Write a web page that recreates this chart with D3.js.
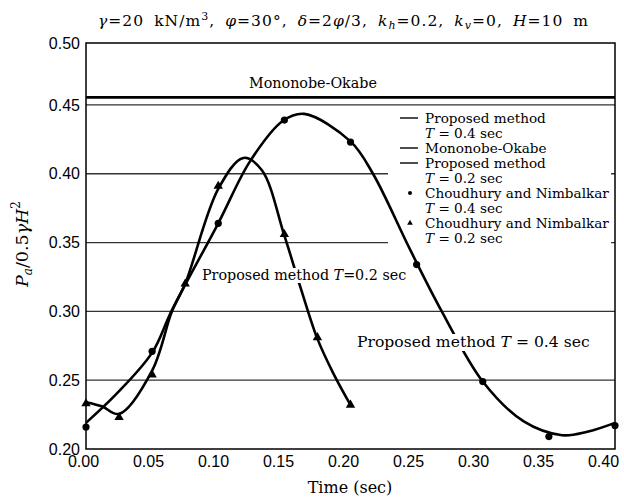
<!DOCTYPE html>
<html>
<head>
<meta charset="utf-8">
<script src="https://cdn.jsdelivr.net/npm/d3@7.9.0/dist/d3.min.js"></script>
<style>
  body { margin: 0; background: #fff; }
  svg { display: block; font-family: "DejaVu Serif", "Liberation Serif", serif; }
</style>
</head>
<body>
<svg id="chart" width="624" height="499"></svg>
<script>
// Choudhury and Nimbalkar points
const cnTimes04 = [0, 0.05, 0.10, 0.15, 0.20, 0.25, 0.30, 0.35, 0.40];
const cnValues04 = [0.216, 0.271, 0.364, 0.439, 0.423, 0.334, 0.249, 0.209, 0.217];
const cnTimes02 = [0, 0.025, 0.05, 0.075, 0.10, 0.15, 0.175, 0.20];
const cnValues02 = [0.233, 0.223, 0.254, 0.320, 0.391, 0.356, 0.281, 0.232];

// Proposed method curves
const pmTimes04 = [0, 0.023, 0.05, 0.065, 0.10, 0.124, 0.149, 0.165, 0.20, 0.217, 0.245, 0.269, 0.30, 0.331, 0.36, 0.379, 0.40];
const pmValues04 = [0.219, 0.240, 0.270, 0.301, 0.364, 0.409, 0.4385, 0.4435, 0.4235, 0.400, 0.345, 0.300, 0.249, 0.220, 0.210, 0.2125, 0.219];
const pmTimes02 = [0, 0.012, 0.025, 0.05, 0.065, 0.075, 0.10, 0.119, 0.133, 0.15, 0.162, 0.175, 0.187, 0.20];
const pmValues02 = [0.234, 0.231, 0.2255, 0.257, 0.300, 0.320, 0.389, 0.4115, 0.4025, 0.355, 0.318, 0.280, 0.255, 0.232];

// Mononobe-Okabe
const moValue = 0.4555;

const xTicks = [0, 0.05, 0.10, 0.15, 0.20, 0.25, 0.30, 0.35, 0.40];
// the top of the frame is printed as 0.50 although it sits a little lower
const yMax = 0.495;
const yTicks = [0.20, 0.25, 0.30, 0.35, 0.40, 0.45, yMax];
const yTickLabels = ['0.20', '0.25', '0.30', '0.35', '0.40', '0.45', '0.50'];
const gridValues = [0.25, 0.30, 0.35, 0.40, 0.45];

const svg = d3.select('#chart');
const mLeft = 86, mRight = 615, mTop = 43, mBottom = 449;

const x = d3.scaleLinear().domain([0, 0.4]).range([mLeft, mRight]);
const y = d3.scaleLinear().domain([0.2, yMax]).range([mBottom, mTop]);
// the printed tick labels sit slightly left of the data positions
const xLabel = d3.scaleLinear().domain([0, 0.4]).range([mLeft - 3, mRight - 12]);

// horizontal grid
svg.append('g')
  .selectAll('line')
  .data(gridValues)
  .join('line')
  .attr('x1', mLeft).attr('x2', mRight)
  .attr('y1', d => y(d)).attr('y2', d => y(d))
  .attr('stroke', '#333').attr('stroke-width', 1.3);

// Mononobe-Okabe line
svg.append('line')
  .attr('x1', mLeft).attr('x2', mRight)
  .attr('y1', y(moValue)).attr('y2', y(moValue))
  .attr('stroke', '#000').attr('stroke-width', 2.6);

// legend background
const legend = svg.append('g');
legend.append('rect')
  .attr('x', 388).attr('y', 109).attr('width', 223).attr('height', 140)
  .attr('fill', '#fff');

// axes tick labels
svg.append('g')
  .attr('transform', `translate(0,${mBottom})`)
  .call(d3.axisBottom(xLabel).tickValues(xTicks).tickFormat(d3.format('.2f')).tickSize(0).tickPadding(7))
  .call(g => g.select('.domain').remove())
  .call(g => g.selectAll('text').attr('font-size', 16).attr('fill', '#000').attr('font-family', null));

svg.append('g')
  .attr('transform', `translate(${mLeft},0)`)
  .call(d3.axisLeft(y).tickValues(yTicks).tickFormat((d, i) => yTickLabels[i]).tickSize(0).tickPadding(6))
  .call(g => g.select('.domain').remove())
  .call(g => g.selectAll('text').attr('font-size', 16).attr('fill', '#000').attr('font-family', null));

// curves
const line = d3.line()
  .x(d => x(d[0]))
  .y(d => y(d[1]))
  .curve(d3.curveCatmullRom.alpha(0.5));

[[pmTimes04, pmValues04], [pmTimes02, pmValues02]].forEach(([ts, vs]) => {
  svg.append('path')
    .attr('d', line(d3.zip(ts, vs)))
    .attr('fill', 'none')
    .attr('stroke', '#000')
    .attr('stroke-width', 2.6);
});

// markers
svg.append('g')
  .selectAll('circle')
  .data(d3.zip(cnTimes04, cnValues04))
  .join('circle')
  .attr('cx', d => x(d[0])).attr('cy', d => y(d[1]))
  .attr('r', 3.6).attr('fill', '#000');

const tri = d3.symbol().type(d3.symbolTriangle).size(38);
svg.append('g')
  .selectAll('path')
  .data(d3.zip(cnTimes02, cnValues02))
  .join('path')
  .attr('transform', d => `translate(${x(d[0])},${y(d[1])})`)
  .attr('d', tri).attr('fill', '#000');

// frame
svg.append('rect')
  .attr('x', mLeft).attr('y', mTop).attr('width', mRight - mLeft).attr('height', mBottom - mTop)
  .attr('fill', 'none').attr('stroke', '#000').attr('stroke-width', 1.5);

// legend entries
const legendRows = [
  { kind: 'line', lines: ['Proposed method', 'T = 0.4 sec'] },
  { kind: 'line', lines: ['Mononobe-Okabe'] },
  { kind: 'line', lines: ['Proposed method', 'T = 0.2 sec'] },
  { kind: 'dot', lines: ['Choudhury and Nimbalkar', 'T = 0.4 sec'] },
  { kind: 'tri', lines: ['Choudhury and Nimbalkar', 'T = 0.2 sec'] }
];
let ly = 118;
legendRows.forEach(row => {
  if (row.kind === 'line') {
    legend.append('line')
      .attr('x1', 400).attr('x2', 418).attr('y1', ly).attr('y2', ly)
      .attr('stroke', '#000').attr('stroke-width', 1.4);
  } else if (row.kind === 'dot') {
    legend.append('circle').attr('cx', 410).attr('cy', ly).attr('r', 2).attr('fill', '#000');
  } else {
    legend.append('path').attr('transform', `translate(410,${ly})`)
      .attr('d', d3.symbol().type(d3.symbolTriangle).size(14)).attr('fill', '#000');
  }
  row.lines.forEach((t, i) => {
    const txt = legend.append('text')
      .attr('x', 425).attr('y', ly + i * 15 + 4.5)
      .attr('font-size', 13.6);
    if (t.startsWith('T')) {
      txt.append('tspan').attr('font-style', 'italic').text('T');
      txt.append('tspan').text(t.slice(1));
    } else {
      txt.text(t);
    }
  });
  ly += row.lines.length * 15;
});

// annotations with white backing
function note(xPos, yPos, parts, size) {
  const g = svg.append('g');
  const bg = g.append('rect').attr('fill', '#fff');
  const txt = g.append('text').attr('x', xPos).attr('y', yPos).attr('font-size', size);
  parts.forEach(p => {
    txt.append('tspan').attr('font-style', p.i ? 'italic' : null).text(p.t);
  });
  const b = txt.node().getBBox();
  bg.attr('x', b.x - 2).attr('y', b.y + 1).attr('width', b.width + 4).attr('height', b.height - 1);
}

note(202, 280, [{ t: 'Proposed method ' }, { t: 'T', i: true }, { t: '=0.2 sec' }], 14.3);
note(357, 347, [{ t: 'Proposed method ' }, { t: 'T', i: true }, { t: ' = 0.4 sec' }], 15.6);

svg.append('text')
  .attr('x', 313).attr('y', 88).attr('text-anchor', 'middle')
  .attr('font-size', 14.3).text('Mononobe-Okabe');

// title
const title = svg.append('text')
  .attr('x', 98).attr('y', 26).attr('font-size', 15.5)
  .attr('word-spacing', 4)
  .attr('textLength', 490).attr('lengthAdjust', 'spacing');
const titleParts = [
  ['γ', 1], ['=20 kN/m', 0], ['3', 0, 'sup'], [', ', 0], ['φ', 1], ['=30°, ', 0],
  ['δ', 1], ['=2', 0], ['φ', 1], ['/3, ', 0], ['k', 1], ['h', 1, 'sub'], ['=0.2, ', 0],
  ['k', 1], ['v', 1, 'sub'], ['=0, ', 0], ['H', 1], ['=10 m', 0]
];
let prevShift = 0;
titleParts.forEach(([t, it, pos]) => {
  const shift = pos === 'sup' ? -6 : pos === 'sub' ? 3 : 0;
  title.append('tspan')
    .attr('font-style', it ? 'italic' : null)
    .attr('font-size', pos ? 11 : null)
    .attr('dy', shift - prevShift)
    .text(t);
  prevShift = shift;
});

// x axis title
svg.append('text')
  .attr('x', 350).attr('y', 493).attr('text-anchor', 'middle')
  .attr('font-size', 16).text('Time (sec)');

// y axis title
const yt = svg.append('text')
  .attr('transform', 'translate(28,244) rotate(-90)')
  .attr('text-anchor', 'middle').attr('font-size', 17.5);
yt.append('tspan').attr('font-style', 'italic').text('P');
yt.append('tspan').attr('font-style', 'italic').attr('font-size', 12).attr('dy', 4).text('a');
yt.append('tspan').attr('dy', -4).text('/0.5');
yt.append('tspan').attr('font-style', 'italic').text('γH');
yt.append('tspan').attr('font-size', 12).attr('dy', -8).text('2');
</script>
</body>
</html>
